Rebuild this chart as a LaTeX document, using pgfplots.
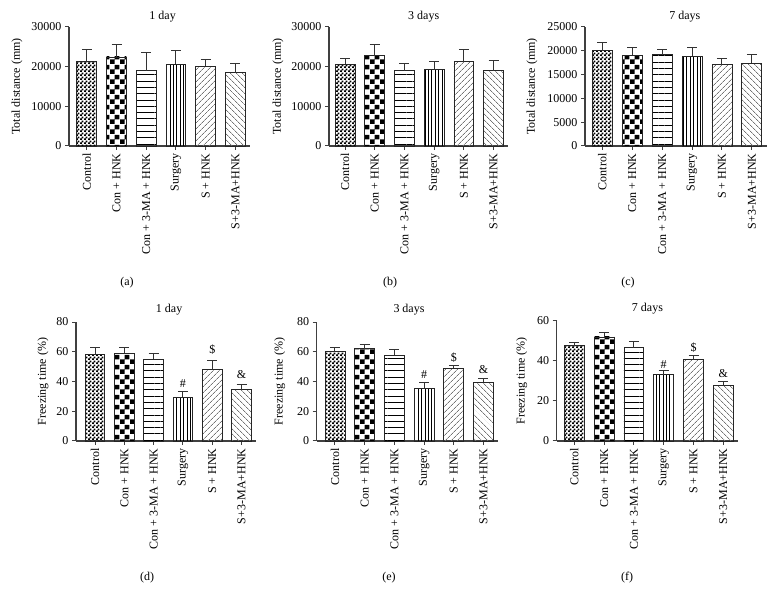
\documentclass[border=0pt]{standalone}
\usepackage{fontspec}
\setmainfont{Liberation Serif}
\usepackage{pgfplots}
\pgfplotsset{compat=1.18}
\usetikzlibrary{patterns,patterns.meta}
\newcommand\fs{\fontsize{12}{14}\selectfont}
\pgfdeclarepatternformonly{finecheck}{\pgfpointorigin}{\pgfqpoint{4pt}{4pt}}{\pgfqpoint{4pt}{4pt}}{%
 \pgfpathrectangle{\pgfpointorigin}{\pgfqpoint{2.1pt}{2.1pt}}%
 \pgfpathrectangle{\pgfqpoint{2pt}{2pt}}{\pgfqpoint{2.1pt}{2.1pt}}%
 \pgfusepath{fill}}
\pgfdeclarepatternformonly{bigcheck}{\pgfpointorigin}{\pgfqpoint{10pt}{10pt}}{\pgfqpoint{10pt}{10pt}}{%
 \pgfpathrectangle{\pgfpointorigin}{\pgfqpoint{5pt}{5pt}}%
 \pgfpathrectangle{\pgfqpoint{5pt}{5pt}}{\pgfqpoint{5pt}{5pt}}%
 \pgfusepath{fill}}
\pgfplotsset{
 panel/.style={scale only axis, axis lines*=left,
  axis line style={black!75, line width=1.1pt},
  ymin=0, xmax=5.5, xtick={0,...,5},
  xticklabels={Control,Con + HNK,Con + 3-MA + HNK,Surgery,S + HNK,S+3-MA+HNK},
  tick align=outside, major tick length=4pt,
  tick style={black!75, line width=1pt},
  xticklabel style={rotate=90, anchor=east, font=\fs},
  yticklabel style={font=\fs},
  /pgf/number format/assume math mode=true,
  /pgf/number format/1000 sep={},
  scaled y ticks=false,
  title style={font=\fs},
  ylabel style={font=\fs, at={(axis description cs:0,0.5)}, anchor=center},
  clip=false},
 bb/.style={ybar, bar shift=0pt, bar width=0.67, draw=black!85, line width=0.8pt,
  error bars/y dir=plus, error bars/y explicit,
  error bars/error bar style={line width=1pt, black!80},
  error bars/error mark options={rotate=90, mark size=5pt, line width=1pt, black!80}},
 p1/.style={bb, pattern=finecheck, pattern color=black},
 p2/.style={bb, pattern=bigcheck, pattern color=black},
 p3/.style={bb, pattern={Lines[angle=0,distance=6.3pt,line width=0.9pt]}, pattern color=black},
 p4/.style={bb, pattern={Lines[angle=90,distance=3.4pt,line width=1pt]}, pattern color=black},
 p5/.style={bb, pattern={Lines[angle=45,distance=4pt,line width=0.7pt]}, pattern color=black!55},
 p6/.style={bb, pattern={Lines[angle=-45,distance=4pt,line width=0.7pt]}, pattern color=black!55},
}
\begin{document}
\begin{tikzpicture}
\path[use as bounding box] (0,0) rectangle (775pt,604pt);
% (a)
\begin{axis}[panel, at={(69pt,458pt)}, anchor=south west, width=181.2pt, height=119.3pt,
 xmin=-0.6, ymax=30000, ytick={0,10000,20000,30000},
 title={1 day}, title style={yshift=-5pt, xshift=3pt},
 ylabel={Total distance (mm)}, ylabel style={yshift=52pt}]
\addplot[p1] coordinates {(0,21300) +- (0,3000)};
\addplot[p2] coordinates {(1,22400) +- (0,3000)};
\addplot[p3] coordinates {(2,18900) +- (0,4500)};
\addplot[p4] coordinates {(3,20600) +- (0,3300)};
\addplot[p5] coordinates {(4,20100) +- (0,1600)};
\addplot[p6] coordinates {(5,18400) +- (0,2300)};
\end{axis}
% (b)
\begin{axis}[panel, at={(329pt,458pt)}, anchor=south west, width=179.4pt, height=119.3pt,
 xmin=-0.54, ymax=30000, ytick={0,10000,20000,30000},
 title={3 days}, title style={yshift=-5pt, xshift=5pt},
 ylabel={Total distance (mm)}, ylabel style={yshift=51pt}]
\addplot[p1] coordinates {(0,20600) +- (0,1400)};
\addplot[p2] coordinates {(1,22700) +- (0,2900)};
\addplot[p3] coordinates {(2,18900) +- (0,1800)};
\addplot[p4] coordinates {(3,19200) +- (0,2050)};
\addplot[p5] coordinates {(4,21200) +- (0,3050)};
\addplot[p6] coordinates {(5,18900) +- (0,2600)};
\end{axis}
% (c)
\begin{axis}[panel, at={(585pt,458pt)}, anchor=south west, width=181.8pt, height=119.3pt,
 xmin=-0.58, ymax=25000, ytick={0,5000,10000,15000,20000,25000},
 title={7 days}, title style={yshift=-5pt, xshift=9pt},
 ylabel={Total distance (mm)}, ylabel style={yshift=53pt}]
\addplot[p1] coordinates {(0,20000) +- (0,1700)};
\addplot[p2] coordinates {(1,19000) +- (0,1700)};
\addplot[p3] coordinates {(2,19100) +- (0,1150)};
\addplot[p4] coordinates {(3,18800) +- (0,1800)};
\addplot[p5] coordinates {(4,17000) +- (0,1400)};
\addplot[p6] coordinates {(5,17300) +- (0,1800)};
\end{axis}
% (d)
\begin{axis}[panel, at={(76pt,163pt)}, anchor=south west, width=180.2pt, height=119pt,
 xmin=-0.65, ymax=80, ytick={0,20,40,60,80},
 title={1 day}, title style={yshift=-2.5pt, xshift=3pt},
 ylabel={Freezing time (\%)}, ylabel style={yshift=33pt}]
\addplot[p1] coordinates {(0,58) +- (0,5)};
\addplot[p2] coordinates {(1,59) +- (0,4)};
\addplot[p3] coordinates {(2,55) +- (0,4)};
\addplot[p4] coordinates {(3,29.5) +- (0,3.5)};
\addplot[p5] coordinates {(4,48) +- (0,6)};
\addplot[p6] coordinates {(5,34.5) +- (0,3.5)};
\node[font=\fs] at (axis cs:3,38.8) {\#};
\node[font=\fs] at (axis cs:4,61.2) {\$};
\node[font=\fs] at (axis cs:5,44.4) {\&};
\end{axis}
% (e)
\begin{axis}[panel, at={(316.7pt,163pt)}, anchor=south west, width=181.6pt, height=119pt,
 xmin=-0.616, ymax=80, ytick={0,20,40,60,80},
 title={3 days}, title style={yshift=-2.5pt, xshift=1.5pt},
 ylabel={Freezing time (\%)}, ylabel style={yshift=37pt}]
\addplot[p1] coordinates {(0,60) +- (0,3)};
\addplot[p2] coordinates {(1,62) +- (0,3)};
\addplot[p3] coordinates {(2,57.5) +- (0,4)};
\addplot[p4] coordinates {(3,35.5) +- (0,3.5)};
\addplot[p5] coordinates {(4,49) +- (0,1.5)};
\addplot[p6] coordinates {(5,39.5) +- (0,2.5)};
\node[font=\fs] at (axis cs:3,44.8) {\#};
\node[font=\fs] at (axis cs:4,56.3) {\$};
\node[font=\fs] at (axis cs:5,47.7) {\&};
\end{axis}
% (f)
\begin{axis}[panel, at={(556.7pt,163pt)}, anchor=south west, width=181.5pt, height=120pt,
 xmin=-0.59, ymax=60, ytick={0,20,40,60},
 title={7 days}, title style={yshift=-2.5pt},
 ylabel={Freezing time (\%)}, ylabel style={yshift=35pt}]
\addplot[p1] coordinates {(0,47.6) +- (0,1.5)};
\addplot[p2] coordinates {(1,52) +- (0,2.3)};
\addplot[p3] coordinates {(2,46.6) +- (0,2.9)};
\addplot[p4] coordinates {(3,33.2) +- (0,2)};
\addplot[p5] coordinates {(4,40.6) +- (0,2.1)};
\addplot[p6] coordinates {(5,27.6) +- (0,2.3)};
\node[font=\fs] at (axis cs:3,38) {\#};
\node[font=\fs] at (axis cs:4,46.8) {\$};
\node[font=\fs] at (axis cs:5,33.8) {\&};
\end{axis}
\node[font=\fs] at (127pt,321pt) {(a)};
\node[font=\fs] at (390pt,321pt) {(b)};
\node[font=\fs] at (628pt,321pt) {(c)};
\node[font=\fs] at (147pt,26pt) {(d)};
\node[font=\fs] at (389pt,26pt) {(e)};
\node[font=\fs] at (627pt,26pt) {(f)};
\end{tikzpicture}
\end{document}
